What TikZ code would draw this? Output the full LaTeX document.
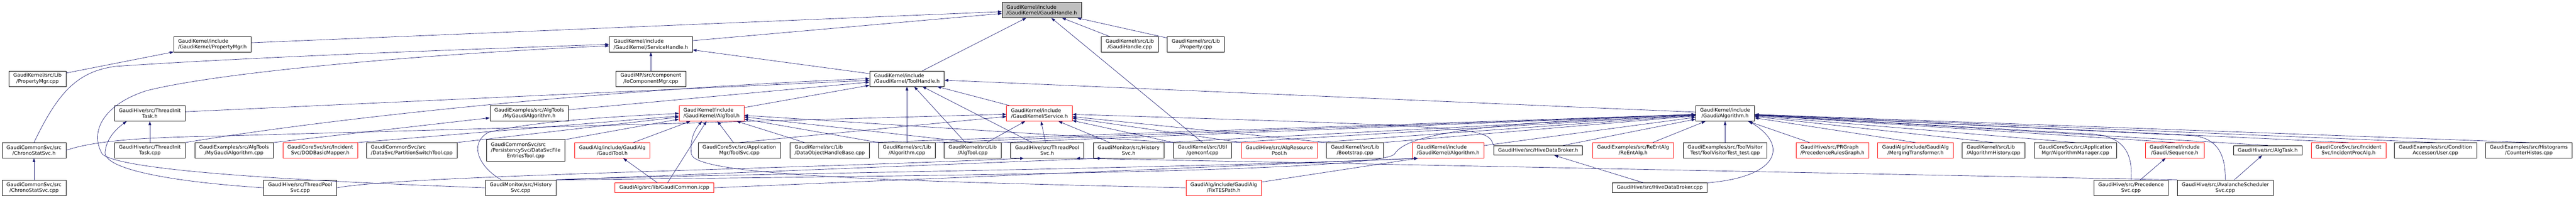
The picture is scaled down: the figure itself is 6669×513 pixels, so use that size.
\documentclass[tikz,border=0pt]{standalone}
\usepackage{fontspec}
\setmainfont{DejaVu Sans}
\usepackage{xcolor}
\usepackage{tikz}
\usetikzlibrary{arrows.meta}
\usetikzlibrary{calc}
\definecolor{edgeblue}{RGB}{25,25,112}
\definecolor{trunc}{RGB}{255,0,0}
\definecolor{rootgray}{RGB}{191,191,191}

\begin{document}
\begin{tikzpicture}[
  x=1pt, y=-1pt,
  file/.style={draw=black, fill=white, line width=0.9pt, inner xsep=11.5pt, inner ysep=2pt,
    minimum height=40pt, align=center, font=\fontsize{12.9}{15}\selectfont},
  redfile/.style={file, draw=trunc},
  rootfile/.style={file, fill=rootgray},
  oneline/.style={minimum height=25pt},
  dep/.style={draw=edgeblue, line width=0.9pt, -{Triangle[length=10pt,width=7pt]}},
]
\useasboundingbox (0,0) rectangle (6669,513);

% root
\node[rootfile, align=left] (gh) at (2697,26) {GaudiKernel/include\\/GaudiKernel/GaudiHandle.h};

% first level
\node[file, align=left] (pmh) at (550,115) {GaudiKernel/include\\/GaudiKernel/PropertyMgr.h};
\node[file, align=left] (shh) at (1685,115) {GaudiKernel/include\\/GaudiKernel/ServiceHandle.h};
\node[file] (ghcpp) at (2925,115) {GaudiKernel/src/Lib\\/GaudiHandle.cpp};
\node[file] (propcpp) at (3096,115) {GaudiKernel/src/Lib\\/Property.cpp};

\node[file] (pmcpp) at (97,204) {GaudiKernel/src/Lib\\/PropertyMgr.cpp};
\node[file] (iocm) at (1685,204) {GaudiMP/src/component\\/IoComponentMgr.cpp};
\node[file, align=left] (thh) at (2348,204) {GaudiKernel/include\\/GaudiKernel/ToolHandle.h};

\node[file] (titH) at (388,294) {GaudiHive/src/ThreadInit\\Task.h};
\node[file] (mgaH) at (1370,294) {GaudiExamples/src/AlgTools\\/MyGaudiAlgorithm.h};
\node[redfile, align=left] (atH) at (1842,294) {GaudiKernel/include\\/GaudiKernel/AlgTool.h};
\node[redfile, align=left] (svcH) at (2691,294) {GaudiKernel/include\\/GaudiKernel/Service.h};
\node[file] (galgH) at (4466,294) {GaudiKernel/include\\/Gaudi/Algorithm.h};

% includers, long row
\node[file] (csH) at (88,390) {GaudiCommonSvc/src\\/ChronoStatSvc.h};
\node[file] (titC) at (388,390) {GaudiHive/src/ThreadInit\\Task.cpp};
\node[file] (mgaC) at (606,390) {GaudiExamples/src/AlgTools\\/MyGaudiAlgorithm.cpp};
\node[redfile] (dodH) at (829,390) {GaudiCoreSvc/src/Incident\\Svc/DODBasicMapper.h};
\node[file, align=left] (pstC) at (1066,390) {GaudiCommonSvc/src\\/DataSvc/PartitionSwitchTool.cpp};
\node[file, minimum height=55pt] (dsfeC) at (1361,390) {\begin{tabular}[b]{@{}l@{}}GaudiCommonSvc/src\\/PersistencySvc/DataSvcFile\end{tabular}\\EntriesTool.cpp};
\node[redfile] (gtH) at (1585,390) {GaudiAlg/include/GaudiAlg\\/GaudiTool.h};
\node[file] (tsC) at (1914,390) {GaudiCoreSvc/src/Application\\Mgr/ToolSvc.cpp};
\node[file, align=left] (dohbC) at (2148,390) {GaudiKernel/src/Lib\\/DataObjectHandleBase.cpp};
\node[file] (algC) at (2348,390) {GaudiKernel/src/Lib\\/Algorithm.cpp};
\node[file] (atC) at (2518,390) {GaudiKernel/src/Lib\\/AlgTool.cpp};
\node[file] (tpsH) at (2711,390) {GaudiHive/src/ThreadPool\\Svc.h};
\node[file] (hsH) at (2922,390) {GaudiMonitor/src/History\\Svc.h};
\node[file] (gencC) at (3113,390) {GaudiKernel/src/Util\\/genconf.cpp};
\node[redfile] (arpH) at (3312,390) {GaudiHive/src/AlgResource\\Pool.h};
\node[file] (bootC) at (3508,390) {GaudiKernel/src/Lib\\/Bootstrap.cpp};
\node[redfile, align=left] (kalgH) at (3749,390) {GaudiKernel/include\\/GaudiKernel/Algorithm.h};
\node[file, oneline] (hdbH) at (3982,390) {GaudiHive/src/HiveDataBroker.h};
\node[redfile] (reH) at (4228,390) {GaudiExamples/src/ReEntAlg\\/ReEntAlg.h};
\node[file] (tvtC) at (4466,390) {GaudiExamples/src/ToolVisitor\\Test/ToolVisitorTest\_test.cpp};
\node[redfile, align=left] (prgH) at (4744,390) {GaudiHive/src/PRGraph\\/PrecedenceRulesGraph.h};
\node[redfile] (mtH) at (4959,390) {GaudiAlg/include/GaudiAlg\\/MergingTransformer.h};
\node[file, align=left] (ahC) at (5161,390) {GaudiKernel/src/Lib\\/AlgorithmHistory.cpp};
\node[file] (amC) at (5373,390) {GaudiCoreSvc/src/Application\\Mgr/AlgorithmManager.cpp};
\node[redfile] (seqH) at (5630,390) {GaudiKernel/include\\/Gaudi/Sequence.h};
\node[file, oneline] (atkH) at (5871,390) {GaudiHive/src/AlgTask.h};
\node[redfile] (ipaH) at (6080,390) {GaudiCoreSvc/src/Incident\\Svc/IncidentProcAlg.h};
\node[file] (userC) at (6305,390) {GaudiExamples/src/Condition\\Accessor/User.cpp};
\node[file] (chC) at (6547,390) {GaudiExamples/src/Histograms\\/CounterHistos.cpp};

% bottom row
\node[file] (csC) at (88,487) {GaudiCommonSvc/src\\/ChronoStatSvc.cpp};
\node[file] (tpsC) at (777,487) {GaudiHive/src/ThreadPool\\Svc.cpp};
\node[file] (hsC) at (1348,487) {GaudiMonitor/src/History\\Svc.cpp};
\node[redfile, oneline] (gcI) at (1720,487) {GaudiAlg/src/lib/GaudiCommon.icpp};
\node[redfile] (ftpH) at (3168,487) {GaudiAlg/include/GaudiAlg\\/FixTESPath.h};
\node[file, oneline] (hdbC) at (4297,487) {GaudiHive/src/HiveDataBroker.cpp};
\node[file] (psC) at (5517,487) {GaudiHive/src/Precedence\\Svc.cpp};
\node[file] (asC) at (5761,487) {GaudiHive/src/AvalancheScheduler\\Svc.cpp};

% into GaudiHandle.h
\draw[dep] (pmh) -- (gh);
\draw[dep] (shh) -- (gh);
\draw[dep] (thh) -- (gh);
\draw[dep] (ghcpp) -- (gh);
\draw[dep] (propcpp) -- (gh);
\draw[dep] (gencC.north) -- (gh);

% PropertyMgr.h, ServiceHandle.h
\draw[dep] (pmcpp) -- (pmh);
\draw[dep] (csH.north) .. controls (150,240) and (200,185) .. (300,172) .. controls (700,145) and (1300,125) .. (shh.west);
\draw[dep] (hsC.west) .. controls (800,470) and (320,445) .. (265,400) .. controls (230,340) and (270,270) .. (380,235) .. controls (600,180) and (1200,135) .. ($(shh.west)+(0,4)$);
\draw[dep] (iocm) -- (shh);
\draw[dep] (thh) -- (shh);

% ToolHandle.h
\draw[dep] (titH) -- (thh);
\draw[dep] (titC.north east) .. controls (900,300) and (1600,230) .. (thh.west);
\draw[dep] (mgaH) -- (thh);
\draw[dep] (atH) -- (thh);
\draw[dep] (algC) -- (thh);
\draw[dep] (atC) -- (thh);
\draw[dep] (tpsH) -- (thh);
\draw[dep] (svcH) -- (thh);
\draw[dep] (galgH) -- (thh);

% ThreadInitTask.h, MyGaudiAlgorithm.h, ChronoStatSvc.h
\draw[dep] (titC) -- (titH);
\draw[dep] (tpsC.west) .. controls (450,472) and (270,440) .. (272,395) .. controls (275,360) and (300,335) .. ($(titH.south)+(-60,0)$);
\draw[dep] (mgaC.north east) -- (mgaH);
\draw[dep] (csC) -- (csH);

% AlgTool.h
\draw[dep] (dodH.north east) -- (atH);
\draw[dep] (pstC.north east) -- (atH);
\draw[dep] (dsfeC.north east) -- (atH);
\draw[dep] (gtH) -- (atH);
\draw[dep] (gcI) -- (atH);
\draw[dep] (tsC) -- (atH);
\draw[dep] (dohbC) -- (atH);
\draw[dep] (algC.north west) -- (atH);
\draw[dep] (atC.north) -- (atH);
\draw[dep] (gencC.north west) -- (atH);
\draw[dep] ($(hsC.north)+(-50,0)$) .. controls (1235,430) and (1215,370) .. (1265,343) .. controls (1400,310) and (1650,300) .. (atH.west);
\draw[dep] (ftpH.west) .. controls (2300,470) and (1800,455) .. (1790,400) .. controls (1785,360) and (1800,335) .. ($(atH.south)+(-25,0)$);

% Service.h
\draw[dep] (csH.east) .. controls (250,362) and (400,356) .. (560,353) -- (svcH);
\draw[dep] (tsC.north) -- (svcH);
\draw[dep] (atC) -- (svcH);
\draw[dep] (tpsH) -- (svcH);
\draw[dep] (hsH) -- (svcH);
\draw[dep] (arpH.north west) -- (svcH);
\draw[dep] (gencC.north west) -- (svcH);
\draw[dep] (bootC.north west) -- (svcH);
\draw[dep] (hdbH.north west) .. controls (3850,330) .. (svcH);

% Gaudi/Algorithm.h
\draw[dep] (algC.north east) -- (galgH);
\draw[dep] (atC.north east) -- (galgH);
\draw[dep] (dohbC.north east) -- (galgH);
\draw[dep] (hsH.north east) -- (galgH);
\draw[dep] (gencC.north east) -- (galgH);
\draw[dep] (arpH.north east) -- (galgH);
\draw[dep] (bootC.north east) -- (galgH);
\draw[dep] (kalgH) -- (galgH);
\draw[dep] (hdbH) -- (galgH);
\draw[dep] (reH) -- (galgH);
\draw[dep] (tvtC) -- (galgH);
\draw[dep] (prgH) -- (galgH);
\draw[dep] (mtH.north) -- (galgH);
\draw[dep] (ahC.north) -- (galgH);
\draw[dep] (amC.north) -- (galgH);
\draw[dep] (seqH.north) -- (galgH);
\draw[dep] (atkH.north) -- (galgH);
\draw[dep] (ipaH.north) -- (galgH);
\draw[dep] (userC.north) -- (galgH);
\draw[dep] (chC.north) -- (galgH);
\draw[dep] (hdbC.north east) .. controls (4600,460) and (4635,380) .. ($(galgH.south east)+(-15,0)$);
\draw[dep] (psC.north) .. controls (5522,400) and (5500,355) .. (5420,348) -- (galgH);
\draw[dep] (asC.north) .. controls (5762,400) and (5740,360) .. (5680,352) -- (galgH);
\draw[dep] (hsC.north east) .. controls (2500,455) and (3560,445) .. (3610,400) .. controls (3640,350) and (3800,320) .. (galgH);

% GaudiKernel/Algorithm.h and the rest
\draw[dep] (ftpH) -- ($(kalgH.south west)+(15,0)$);
\draw[dep] (gcI.east) -- ($(kalgH.south west)+(15,0)$);
\draw[dep] (hsC.north east) .. controls (1600,455) and (3000,440) .. ($(kalgH.south west)+(15,0)$);
\draw[dep] (gcI) -- (gtH);
\draw[dep] (tpsC.east) .. controls (1050,455) and (2000,440) .. ($(tpsH.south)+(-60,0)$);
\draw[dep] (asC.north west) -- ($(tpsH.south east)+(-20,0)$);
\draw[dep] (hsC.north east) -- ($(hsH.south)+(-70,0)$);
\draw[dep] (hdbC) -- (hdbH);
\draw[dep] (psC) -- (seqH);
\draw[dep] (asC) -- (atkH);
\end{tikzpicture}
\end{document}
